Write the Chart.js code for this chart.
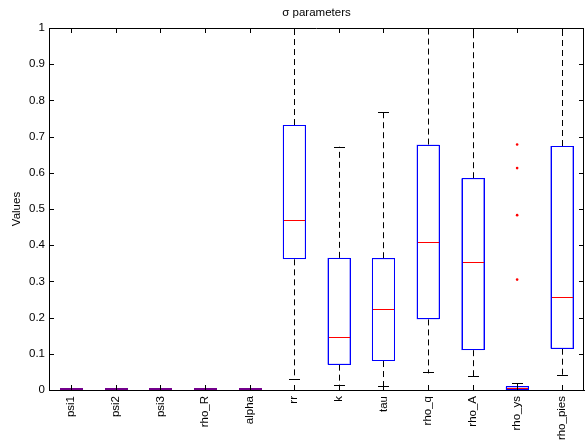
<!DOCTYPE html>
<html>
<head>
<meta charset="utf-8">
<script src="https://cdn.jsdelivr.net/npm/chart.js@4"></script>
<style>
  body { margin: 0; background: #fff; }
  canvas { display: block; }
</style>
</head>
<body>
<canvas id="chart" width="588" height="442"></canvas>
<script>
const labels = ['psi1', 'psi2', 'psi3', 'rho_R', 'alpha', 'rr', 'k', 'tau', 'rho_q', 'rho_A', 'rho_ys', 'rho_pies'];
const whiskerLow  = [0, 0, 0, 0, 0, 0.028, 0.011, 0.007, 0.046, 0.035, 0,     0.039];
const q1          = [0, 0, 0, 0, 0, 0.361, 0.070, 0.080, 0.195, 0.110, 0,     0.114];
const median      = [0, 0, 0, 0, 0, 0.467, 0.145, 0.220, 0.405, 0.350, 0.003, 0.253];
const q3          = [0, 0, 0, 0, 0, 0.732, 0.365, 0.364, 0.678, 0.585, 0.010, 0.674];
const whiskerHigh = [0, 0, 0, 0, 0, 1.2,   0.672, 0.767, 1.2,   1.2,   0.018, 1.2];
const outlierCat  = ['rho_ys', 'rho_ys', 'rho_ys', 'rho_ys'];
const outlierVal  = [0.678, 0.613, 0.483, 0.305];

const FONT = { family: 'Liberation Sans, Arial, sans-serif', size: 11.5 };

// whiskers, caps and medians drawn on top of the box bars
const boxExtras = {
    id: 'boxExtras',
    afterDatasetsDraw(chart) {
        const { ctx, chartArea, scales: { x, y } } = chart;
        const bars = chart.getDatasetMeta(0).data;
        ctx.save();
        ctx.beginPath();
        ctx.rect(chartArea.left, chartArea.top, chartArea.right - chartArea.left, chartArea.bottom - chartArea.top);
        ctx.clip();
        labels.forEach((lab, i) => {
            const cx = Math.round(x.getPixelForValue(i)) + 0.5;
            const half = bars[i].width / 2;
            const bl = Math.round(cx - half), br = Math.round(cx + half);
            const capHalf = half / 2;
            const yLow = y.getPixelForValue(whiskerLow[i]);
            const yQ1 = y.getPixelForValue(q1[i]);
            const yQ3 = y.getPixelForValue(q3[i]);
            const yHigh = y.getPixelForValue(whiskerHigh[i]);
            ctx.strokeStyle = '#000';
            ctx.lineWidth = 1;
            ctx.setLineDash([6, 4]);
            ctx.beginPath();
            ctx.moveTo(cx, yQ3); ctx.lineTo(cx, yHigh);
            ctx.moveTo(cx, yQ1); ctx.lineTo(cx, yLow);
            ctx.stroke();
            ctx.setLineDash([]);
            ctx.beginPath();
            ctx.moveTo(Math.round(cx - capHalf), Math.round(yHigh) + 0.5); ctx.lineTo(Math.round(cx + capHalf), Math.round(yHigh) + 0.5);
            ctx.moveTo(Math.round(cx - capHalf), Math.round(yLow) - 0.5); ctx.lineTo(Math.round(cx + capHalf), Math.round(yLow) - 0.5);
            ctx.stroke();
            if (q3[i] === q1[i]) {
                // flat box: blue outline and red median fall on the same row
                const yb = Math.round(yQ1) - 1;
                ctx.lineWidth = 2;
                ctx.strokeStyle = '#ff0000';
                ctx.beginPath();
                ctx.moveTo(bl, yb); ctx.lineTo(br, yb);
                ctx.stroke();
                ctx.strokeStyle = 'rgba(0,0,255,0.55)';
                ctx.stroke();
                ctx.lineWidth = 1;
            } else {
                ctx.strokeStyle = '#0000ff';
                ctx.strokeRect(bl + 0.5, Math.round(yQ3) + 0.5, br - bl - 1, Math.round(yQ1) - Math.round(yQ3) - 1);
                const ym = Math.round(y.getPixelForValue(median[i])) - 0.5;
                ctx.strokeStyle = '#ff0000';
                ctx.beginPath();
                ctx.moveTo(bl + 1, ym); ctx.lineTo(br - 1, ym);
                ctx.stroke();
            }
        });
        ctx.restore();
    },
    afterDraw(chart) {
        const { ctx, chartArea: a, scales: { x, y } } = chart;
        ctx.save();
        ctx.strokeStyle = '#000';
        ctx.lineWidth = 1;
        ctx.beginPath();
        ctx.moveTo(a.left, Math.round(a.top) + 0.5); ctx.lineTo(a.right, Math.round(a.top) + 0.5);
        ctx.moveTo(Math.round(a.right) - 0.5, a.top); ctx.lineTo(Math.round(a.right) - 0.5, a.bottom);
        y.ticks.forEach(t => {
            const py = Math.round(y.getPixelForValue(t.value)) + 0.5;
            ctx.moveTo(a.left, py); ctx.lineTo(a.left + 5, py);
            ctx.moveTo(a.right, py); ctx.lineTo(a.right - 5, py);
        });
        labels.forEach((lab, i) => {
            const px = Math.round(x.getPixelForValue(i)) + 0.5;
            ctx.moveTo(px, a.bottom); ctx.lineTo(px, a.bottom - 5);
            ctx.moveTo(px, a.top); ctx.lineTo(px, a.top + 5);
        });
        ctx.stroke();
        ctx.restore();
    }
};

new Chart(document.getElementById('chart').getContext('2d'), {
    type: 'bar',
    data: {
        labels: labels,
        datasets: [{
            label: 'box',
            data: q1.map((v, i) => [v, q3[i]]),
            backgroundColor: 'rgba(0,0,0,0)',
            borderColor: 'rgba(0,0,255,0.5)',
            borderWidth: 1,
            borderSkipped: false,
            barPercentage: 0.52,
            categoryPercentage: 1
        }, {
            type: 'line',
            label: 'outliers',
            data: outlierCat.map((c, i) => ({ x: c, y: outlierVal[i] })),
            showLine: false,
            pointRadius: 1.3,
            pointBorderWidth: 0,
            pointBackgroundColor: '#ff0000',
            pointBorderColor: '#ff0000'
        }]
    },
    options: {
        responsive: false,
        animation: false,
        devicePixelRatio: 1,
        layout: { padding: { left: 0, right: 3, top: 0, bottom: 0 } },
        scales: {
            x: {
                offset: true,
                grid: { display: false, drawTicks: false },
                border: { display: true, color: '#000', width: 1 },
                ticks: { color: '#000', font: FONT, maxRotation: 90, minRotation: 90, padding: 6, autoSkip: false },
                afterFit(scale) { scale.height = 52; }
            },
            y: {
                min: 0,
                max: 1,
                grid: { display: false, drawTicks: false },
                border: { display: true, color: '#000', width: 1 },
                ticks: {
                    color: '#000', font: FONT, stepSize: 0.1, padding: 4,
                    callback: v => String(Math.round(v * 10) / 10)
                },
                title: { display: true, text: 'Values', color: '#000', font: FONT, padding: { top: 10, bottom: 0 } },
                afterFit(scale) { scale.width = 49; }
            }
        },
        plugins: {
            legend: { display: false },
            tooltip: { enabled: false },
            title: {
                display: true,
                text: 'σ parameters',
                color: '#000',
                fullSize: false,
                font: { family: FONT.family, size: 11.5, weight: 'normal' },
                padding: { top: 5.6, bottom: 8.6 }
            }
        }
    },
    plugins: [boxExtras]
});
</script>
</body>
</html>
